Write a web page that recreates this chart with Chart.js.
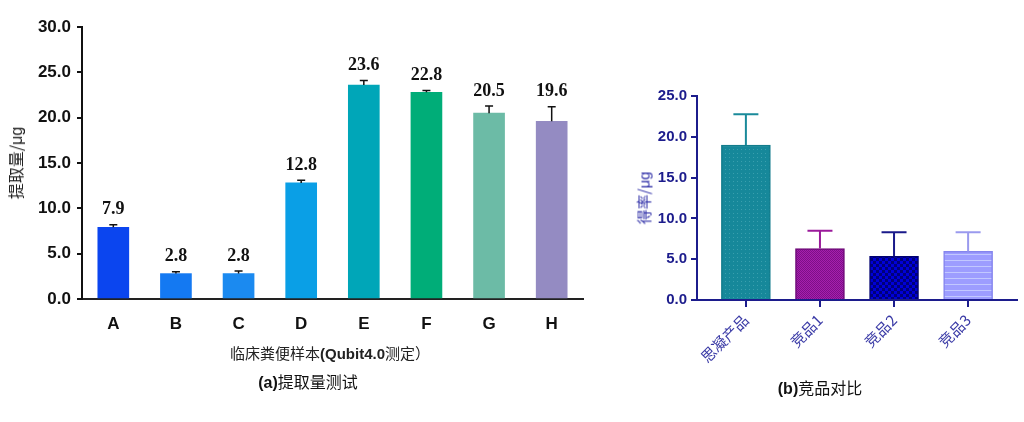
<!DOCTYPE html>
<html lang="zh">
<head>
  <meta charset="UTF-8" />
  <title>提取量测试 / 竞品对比</title>
  <script src="https://cdn.jsdelivr.net/npm/chart.js"></script>
  <style>
    html, body { margin: 0; padding: 0; background: #fff; }
    body { width: 1024px; height: 422px; position: relative; overflow: hidden; font-family: "Noto Sans CJK SC", sans-serif; }
    #chartA { position: absolute; left: 0; top: 0; }
    #chartB { position: absolute; left: 600px; top: 0; }
    .lbl { position: absolute; white-space: nowrap; transform: translate(-50%, -50%); }
    .lat { font-family: "Liberation Sans", Arial, sans-serif; font-weight: bold; }
    .rot { transform: translate(-50%, -50%) rotate(-90deg); }
  </style>
</head>
<body>
  <canvas id="chartA" width="600" height="422"></canvas>
  <canvas id="chartB" width="424" height="422"></canvas>

  <!-- axis titles and captions -->
  <div class="lbl rot" style="left:15px; top:163px; font-size:16px; color:#222;">提取量/<span class="lat" style="font-weight:normal">μg</span></div>
  <div class="lbl" style="left:330px; top:352px; font-size:15px; color:#222;">临床粪便样本<span class="lat">(Qubit4.0</span>测定）</div>
  <div class="lbl" style="left:308px; top:381px; font-size:16px; color:#111;"><span class="lat">(a)</span>提取量测试</div>
  <div class="lbl rot" style="left:643px; top:198px; font-size:15px; color:#3030a8;">得率/<span class="lat" style="font-weight:normal">μg</span></div>
  <div class="lbl" style="left:820px; top:387px; font-size:16px; color:#111;"><span class="lat">(b)</span>竞品对比</div>

  <script>
    // (a) 提取量测试
    const samples = ['A', 'B', 'C', 'D', 'E', 'F', 'G', 'H'];
    const yields = [7.9, 2.8, 2.8, 12.8, 23.6, 22.8, 20.5, 19.6];
    const yieldErr = [0.3, 0.2, 0.3, 0.3, 0.5, 0.2, 0.8, 1.6];
    const sampleColors = ['#0b45ef', '#1479f2', '#1b8af0', '#0a9fe6', '#00a6b8', '#00ad78', '#6cbba6', '#948bc2'];
    const yTicksA = [0, 5, 10, 15, 20, 25, 30];

    // (b) 竞品对比
    const products = ['思凝产品', '竞品1', '竞品2', '竞品3'];
    const rates = [19.0, 6.3, 5.35, 5.95];
    const rateErr = [3.75, 2.2, 2.95, 2.35];
    const yTicksB = [0, 5, 10, 15, 20, 25];

    const navy = '#1c1c8c';

    function makePattern(size, draw) {
      const c = document.createElement('canvas');
      c.width = size; c.height = size;
      draw(c.getContext('2d'), size);
      return c.getContext('2d').createPattern(c, 'repeat');
    }
    const ctxB = document.getElementById('chartB').getContext('2d');
    const fills = [
      makePattern(4, (g) => { g.fillStyle = '#16889a'; g.fillRect(0, 0, 4, 4); g.fillStyle = '#3a9fae'; g.fillRect(1, 1, 1, 1); }),
      makePattern(2, (g) => { g.fillStyle = '#a61fae'; g.fillRect(0, 0, 2, 2); g.fillStyle = '#7d0f88'; g.fillRect(0, 0, 1, 1); g.fillRect(1, 1, 1, 1); }),
      makePattern(6, (g) => { g.fillStyle = '#0000d8'; g.fillRect(0, 0, 6, 6); g.fillStyle = '#00007a'; g.fillRect(0, 0, 3, 3); g.fillRect(3, 3, 3, 3); }),
      makePattern(6, (g) => { g.fillStyle = '#9d9dff'; g.fillRect(0, 0, 6, 6); g.fillStyle = '#c2c8ff'; g.fillRect(0, 2, 6, 1); })
    ];
    const borders = ['#127c8c', '#6e0a78', '#000070', '#8585ee'];
    const errColors = ['#1a8a9a', '#9a1a9a', '#1a1a8a', '#9a9aee'];

    // error bars + value labels
    const errorBars = {
      id: 'errorBars',
      afterDatasetsDraw(chart, args, opts) {
        const ctx = chart.ctx;
        const meta = chart.getDatasetMeta(0);
        const ys = chart.scales.y;
        const vals = chart.data.datasets[0].data;
        meta.data.forEach((bar, i) => {
          const v = typeof vals[i] === 'object' ? vals[i].y : vals[i];
          const top = ys.getPixelForValue(v + opts.err[i]);
          ctx.save();
          ctx.strokeStyle = opts.colors[i];
          ctx.lineWidth = opts.width;
          ctx.beginPath();
          ctx.moveTo(bar.x, bar.y);
          ctx.lineTo(bar.x, top);
          ctx.moveTo(bar.x - opts.cap / 2, top);
          ctx.lineTo(bar.x + opts.cap / 2, top);
          ctx.stroke();
          if (opts.labels) {
            ctx.fillStyle = '#111';
            ctx.font = 'bold 18px "Liberation Serif", "Times New Roman", serif';
            ctx.textAlign = 'center';
            ctx.textBaseline = 'middle';
            ctx.fillText(v.toFixed(1), bar.x, top - 15);
          }
          ctx.restore();
        });
      }
    };

    new Chart(document.getElementById('chartA'), {
      type: 'bar',
      data: {
        labels: samples,
        datasets: [{
          data: yields,
          backgroundColor: sampleColors,
          barThickness: 31
        }]
      },
      options: {
        responsive: false,
        animation: false,
        layout: { padding: { top: 27, right: 17, left: 0, bottom: 0 } },
        plugins: {
          legend: { display: false },
          tooltip: { enabled: false },
          errorBars: { err: yieldErr, colors: samples.map(() => '#111'), width: 1.5, cap: 8, labels: true }
        },
        scales: {
          x: {
            afterFit: (s) => { s.height = 123; },
            grid: { drawOnChartArea: false, drawTicks: false },
            border: { color: '#222', width: 2 },
            ticks: { color: '#111', padding: 15, font: { family: '"Liberation Sans", Arial', size: 17, weight: 'bold' } }
          },
          y: {
            min: 0, max: 30,
            afterFit: (s) => { s.width = 82; },
            afterBuildTicks: (s) => { s.ticks = yTicksA.map(v => ({ value: v })); },
            grid: { drawOnChartArea: false, tickLength: 5, color: '#111', lineWidth: 2 },
            border: { color: '#111', width: 2 },
            ticks: { color: '#111', padding: 6, font: { family: '"Liberation Sans", Arial', size: 17, weight: 'bold' }, callback: (v) => v.toFixed(1) }
          }
        }
      },
      plugins: [errorBars]
    });

    new Chart(ctxB, {
      type: 'bar',
      data: {
        datasets: [{
          data: rates.map((v, i) => ({ x: i, y: v })),
          backgroundColor: fills,
          borderColor: borders,
          borderWidth: 1.5,
          borderSkipped: 'bottom',
          barThickness: 49
        }]
      },
      options: {
        responsive: false,
        animation: false,
        layout: { padding: { top: 96, right: 7, left: 0, bottom: 0 } },
        plugins: {
          legend: { display: false },
          tooltip: { enabled: false },
          errorBars: { err: rateErr, colors: errColors, width: 2, cap: 25, labels: false }
        },
        scales: {
          x: {
            type: 'linear',
            offset: false,
            min: -0.66, max: 3.66,
            afterFit: (s) => { s.height = 122; },
            afterBuildTicks: (s) => { s.ticks = products.map((p, i) => ({ value: i })); },
            grid: { offset: false, drawOnChartArea: false, tickLength: 7, color: navy, lineWidth: 2 },
            border: { color: navy, width: 2 },
            ticks: {
              color: '#3a3aa6', padding: 4, minRotation: 45, maxRotation: 45,
              font: { family: '"Noto Sans CJK SC"', size: 15 },
              callback: (v) => products[v]
            }
          },
          y: {
            min: 0, max: 25,
            afterFit: (s) => { s.width = 97; },
            afterBuildTicks: (s) => { s.ticks = yTicksB.map(v => ({ value: v })); },
            grid: { drawOnChartArea: false, tickLength: 6, color: navy, lineWidth: 2 },
            border: { color: navy, width: 2 },
            ticks: { color: navy, padding: 4, font: { family: '"Liberation Sans", Arial', size: 15, weight: 'bold' }, callback: (v) => v.toFixed(1) }
          }
        }
      },
      plugins: [errorBars]
    });
  </script>
</body>
</html>
